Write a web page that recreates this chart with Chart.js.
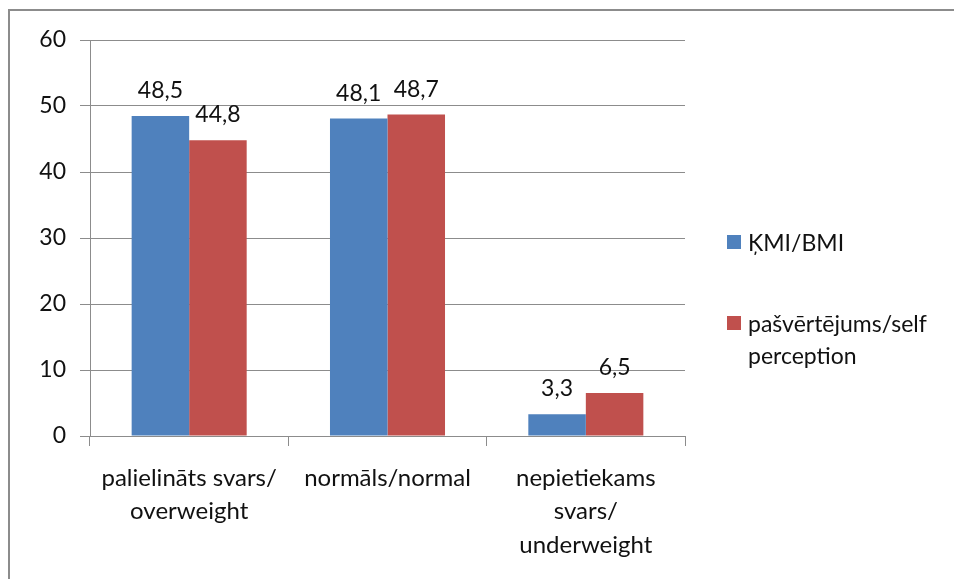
<!DOCTYPE html>
<html>
<head>
<meta charset="utf-8">
<script src="https://cdn.jsdelivr.net/npm/chart.js@4"></script>
<style>
  html, body { margin: 0; padding: 0; background: #fff; }
  #wrap { position: relative; width: 954px; height: 579px; overflow: hidden; }
  #frame { position: absolute; left: 8px; top: 9px; width: 960px; height: 600px;
           border-top: 2px solid #8c8c8c; border-left: 2px solid #8c8c8c; box-sizing: border-box; }
  canvas { position: absolute; left: 0; top: 0; }
  .item { position: absolute; left: 727px; font-family: Lato, "Open Sans", sans-serif;
          font-size: 23px; color: #111; line-height: 32px; padding-left: 21px; white-space: nowrap; }
  .sw { position: absolute; left: 0; top: 9px; width: 14px; height: 14px; }
</style>
</head>
<body>
<div id="wrap">
  <div id="frame"></div>
  <canvas id="c" width="954" height="579"></canvas>
  <div class="item" style="top:226px"><span class="sw" style="background:#4F81BD"></span>ĶMI/BMI</div>
  <div class="item" style="top:307px"><span class="sw" style="background:#C0504D"></span>pašvērtējums/self<br>perception</div>
</div>
<script>
const categories = [
  ["palielināts svars/", "overweight"],
  ["normāls/normal"],
  ["nepietiekams", "svars/", "underweight"]
];
const seriesNames = ["ĶMI/BMI", "pašvērtējums/self perception"];
const bmiValues = [48.5, 48.1, 3.3];
const selfValues = [44.8, 48.7, 6.5];
const yTicks = [0, 10, 20, 30, 40, 50, 60];

const FONT = 'Lato, "Open Sans", sans-serif';

const valueLabels = {
  id: 'valueLabels',
  afterDatasetsDraw(chart) {
    const ctx = chart.ctx;
    ctx.save();
    ctx.font = '23px ' + FONT;
    ctx.fillStyle = '#111';
    ctx.textAlign = 'center';
    ctx.textBaseline = 'alphabetic';
    chart.data.datasets.forEach((ds, i) => {
      const meta = chart.getDatasetMeta(i);
      meta.data.forEach((bar, j) => {
        const txt = ds.data[j].toFixed(1).replace('.', ',');
        ctx.fillText(txt, bar.x, bar.y - 18);
      });
    });
    ctx.restore();
  }
};

new Chart(document.getElementById('c'), {
  type: 'bar',
  data: {
    labels: categories,
    datasets: [
      { label: seriesNames[0], data: bmiValues, backgroundColor: '#4F81BD' },
      { label: seriesNames[1], data: selfValues, backgroundColor: '#C0504D' }
    ]
  },
  options: {
    responsive: false,
    animation: false,
    devicePixelRatio: 1,
    layout: { padding: { top: 40, right: 269, left: 0, bottom: 0 } },
    plugins: { legend: { display: false }, tooltip: { enabled: false } },
    datasets: { bar: { categoryPercentage: 0.58, barPercentage: 1.0 } },
    scales: {
      x: {
        offset: true,
        grid: { display: true, drawOnChartArea: false, drawTicks: true, tickLength: 10, offset: true, color: '#8c8c8c' },
        border: { color: '#8c8c8c' },
        ticks: { font: { family: FONT, size: 24, lineHeight: 1.4 }, color: '#111', padding: 15, maxRotation: 0, autoSkip: false },
        afterFit(scale) { scale.height = 143; }
      },
      y: {
        min: 0, max: 60,
        afterBuildTicks(scale) { scale.ticks = yTicks.map(v => ({ value: v })); },
        grid: { color: '#8c8c8c', tickLength: 10 },
        border: { color: '#8c8c8c' },
        ticks: { font: { family: FONT, size: 23 }, color: '#111', padding: 14 },
        afterFit(scale) { scale.width = 90; }
      }
    }
  },
  plugins: [valueLabels]
});
</script>
</body>
</html>
